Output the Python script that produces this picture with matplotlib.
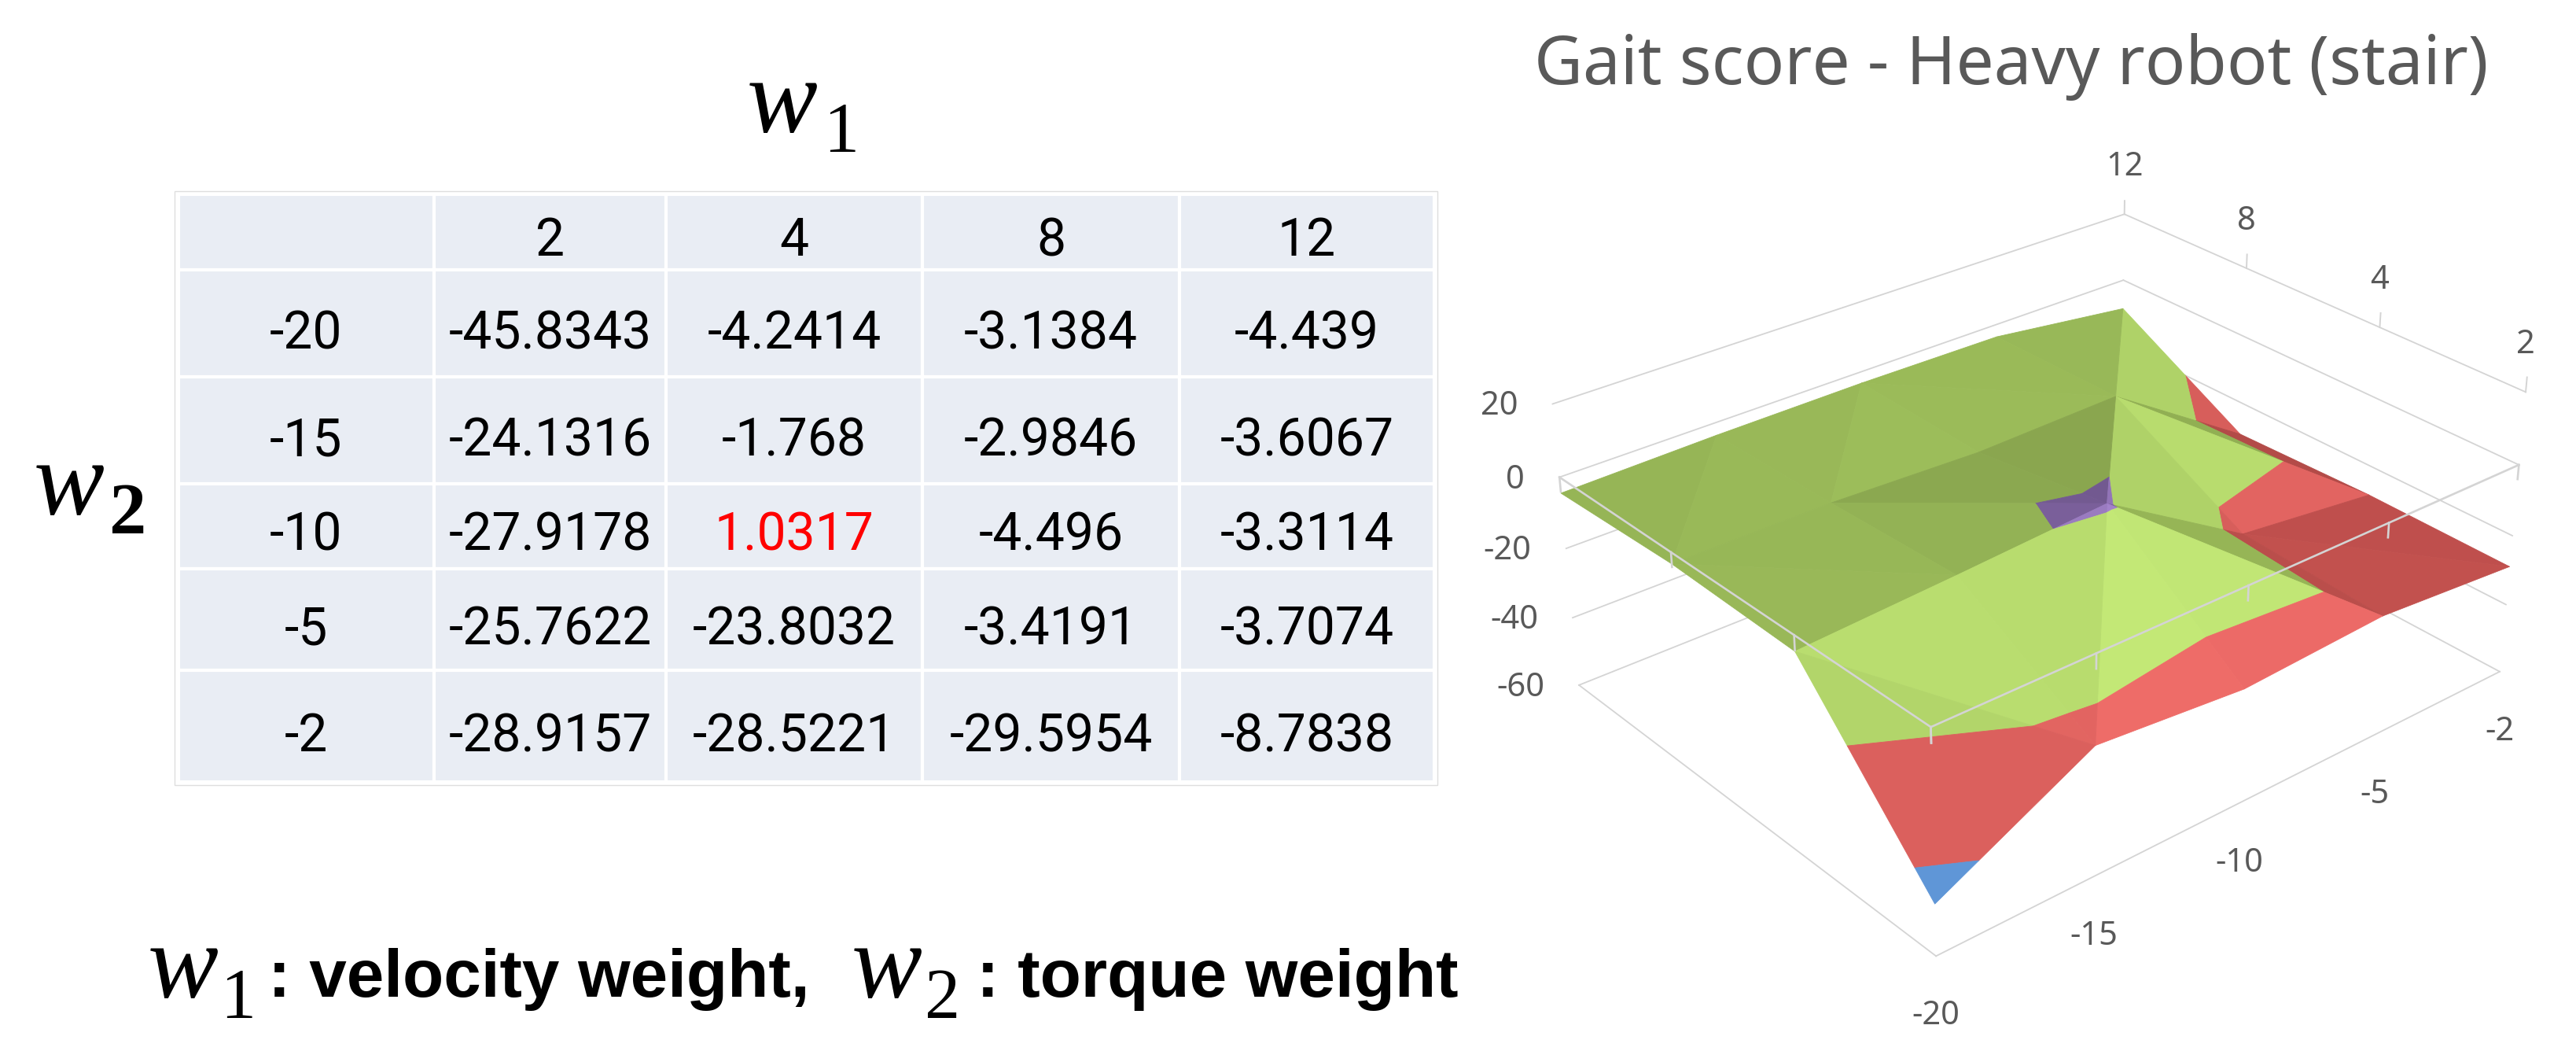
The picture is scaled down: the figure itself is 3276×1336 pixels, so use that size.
import numpy as np
import matplotlib
matplotlib.use("Agg")
import matplotlib.pyplot as plt
from matplotlib.patches import Rectangle
from mpl_toolkits.mplot3d import proj3d
from mpl_toolkits.mplot3d.art3d import Poly3DCollection

W1 = [2, 4, 8, 12]
W2 = [-20, -15, -10, -5, -2]
SCORE_M20 = [-45.8343, -4.2414, -3.1384, -4.439]
SCORE_M15 = [-24.1316, -1.768, -2.9846, -3.6067]
SCORE_M10 = [-27.9178, 1.0317, -4.496, -3.3114]
SCORE_M5 = [-25.7622, -23.8032, -3.4191, -3.7074]
SCORE_M2 = [-28.9157, -28.5221, -29.5954, -8.7838]
Z_TICKS = [20, 0, -20, -40, -60]

BANDS = [(-60, -40, "#4F81BD"), (-40, -20, "#C0504D"), (-20, 0, "#9BBB59"), (0, 20, "#8064A2")]

W, H = 3276, 1336
score = np.array([SCORE_M20, SCORE_M15, SCORE_M10, SCORE_M5, SCORE_M2])

fig = plt.figure(figsize=(W / 100, H / 100), dpi=100)

# flat layer in pixels for the table and the labels
pg = fig.add_axes([0, 0, 1, 1])
pg.set_xlim(0, W)
pg.set_ylim(H, 0)
pg.axis("off")

# table
col_edges = [227, 552, 847, 1173, 1500, 1824]
row_edges = [247, 343, 479, 615, 723, 852, 994]
baselines = [325, 443, 579, 700, 820, 955]
pg.add_patch(Rectangle((222, 243), 1606, 755, fc="none", ec="#dedede", lw=1))
for r in range(6):
    for c in range(5):
        x0, x1 = col_edges[c], col_edges[c + 1]
        y0, y1 = row_edges[r], row_edges[r + 1]
        pg.add_patch(Rectangle((x0, y0), x1 - x0, y1 - y0, fc="#E9EDF4", ec="white", lw=3))
        if r == 0 and c == 0:
            continue
        if r == 0:
            txt = str(W1[c - 1])
        elif c == 0:
            txt = str(W2[r - 1])
        else:
            txt = str(score[r - 1, c - 1])
        col = "#ff0000" if (r > 0 and c > 0 and score[r - 1, c - 1] > 0) else "black"
        pg.text((x0 + x1) / 2, baselines[r], txt, ha="center", va="baseline", color=col,
                family="Roboto", fontsize=47.5)

SERIF = "Liberation Serif"
SANS = "Liberation Sans"
pg.text(950, 168, "w", family=SERIF, style="italic", fontsize=97, va="baseline")
pg.text(1047, 193, "1", family=SERIF, fontsize=65, va="baseline")
pg.text(43, 654, "w", family=SERIF, style="italic", fontsize=97, va="baseline")
pg.text(139, 678, "2", family=SERIF, weight="bold", fontsize=68, va="baseline")
pg.text(188, 1268, "w", family=SERIF, style="italic", fontsize=97, va="baseline")
pg.text(280, 1294, "1", family=SERIF, fontsize=65, va="baseline")
pg.text(341, 1267, ": velocity weight,", family=SANS, weight="bold", fontsize=61.6, va="baseline")
pg.text(1083, 1268, "w", family=SERIF, style="italic", fontsize=97, va="baseline")
pg.text(1176, 1294, "2", family=SERIF, fontsize=65, va="baseline")
pg.text(1242, 1267, ": torque weight", family=SANS, weight="bold", fontsize=61.6, va="baseline")

pg.text(2558, 107, "Gait score - Heavy robot (stair)", family="Noto Sans", fontsize=61.4,
        color="#595959", ha="center", va="baseline")

# surface, camera fitted against the box corners
ax = fig.add_axes([0, 0, 1, 1], projection="3d", computed_zorder=False)
ni, nj = len(W1) - 1, len(W2) - 1
ax.set_xlim(ni, 0)
ax.set_ylim(0, nj)
ax.set_zlim(Z_TICKS[-1], Z_TICKS[0])
box = np.array([1, 1.2551, 0.5434])
ax.set_box_aspect(box)
ax.set_proj_type("persp", focal_length=0.5376)
ax.view_init(elev=29.1123, azim=-40.1318)
ax.set_axis_off()
ax.patch.set_alpha(0)
s, tx, ty = 6668.869, 2595.822, 689.007
vl = ax.viewLim
ax.set_position([(tx + s * vl.x0) / W, (H - ty + s * vl.y0) / H, s * vl.width / W, s * vl.height / H])


def clip_band(tri, lo, hi):
    poly = list(tri)
    for sign, lim in ((1, lo), (-1, hi)):
        out = []
        for k in range(len(poly)):
            a, b = poly[k], poly[(k + 1) % len(poly)]
            da, db = sign * (a[2] - lim), sign * (b[2] - lim)
            if da >= 0:
                out.append(a)
            if da * db < 0:
                out.append(a + (b - a) * da / (da - db))
        poly = out
        if not poly:
            break
    return poly


def shade(tri):
    # brightness: lit from the front left
    scale = box / np.array([ni, nj, Z_TICKS[0] - Z_TICKS[-1]])
    p = tri * scale
    n = np.cross(p[1] - p[0], p[2] - p[0])
    n = n / np.linalg.norm(n)
    if n[2] < 0:
        n = -n
    fx = -0.47 * n[0] if n[0] < 0 else -0.9 * n[0]
    fy = 0.45 * n[1] if n[1] < 0 else -0.1 * n[1]
    return 1 + fx + fy


def lit(base, f):
    rgb = np.array(matplotlib.colors.to_rgb(base))
    if f > 1:
        # highlights wash out a bit towards white
        return np.clip(rgb * (1 + 0.7 * (f - 1)) + 0.25 * (f - 1), 0, 1)
    return rgb * f


polys, colors = [], []
for i in range(ni):
    for j in range(nj):
        c = [np.array([i + a, j + b, score[j + b, i + a]], float) for a, b in ((0, 0), (1, 0), (1, 1), (0, 1))]
        # cut along the higher diagonal
        if c[0][2] + c[2][2] >= c[1][2] + c[3][2]:
            tris = [(c[0], c[1], c[2]), (c[0], c[2], c[3])]
        else:
            tris = [(c[0], c[1], c[3]), (c[1], c[2], c[3])]
        for tri in tris:
            f = shade(np.array(tri))
            for lo, hi, base in BANDS:
                poly = clip_band(tri, lo, hi)
                if len(poly) >= 3:
                    polys.append(np.array(poly))
                    colors.append(lit(base, f))

GRID = "#d4d4d4"
corners = {"L": (ni, 0), "B": (ni, nj), "R": (0, nj), "F": (0, 0)}


def edge(a, b, z, **kw):
    ax.plot([corners[a][0], corners[b][0]], [corners[a][1], corners[b][1]], [z, z],
            color=GRID, clip_on=False, **kw)


for z in Z_TICKS:
    edge("L", "B", z, lw=1.3, zorder=1)
    edge("B", "R", z, lw=1.3, zorder=1)
edge("L", "F", Z_TICKS[-1], lw=1.3, zorder=1)
edge("F", "R", Z_TICKS[-1], lw=1.3, zorder=1)

surf = Poly3DCollection(polys, facecolors=colors, edgecolors=colors, linewidths=0.6, zorder=2)
surf.set_clip_on(False)
ax.add_collection3d(surf, autolim=False)

# frame at z=0 sits in front of the surface
edge("L", "F", 0, lw=1.9, zorder=3)
edge("F", "R", 0, lw=1.9, zorder=3)
for i in range(ni + 1):
    ax.plot([i, i], [0, 0], [0, -4], color=GRID, lw=1.9, clip_on=False, zorder=3)
    ax.plot([i, i], [nj, nj], [20, 24], color=GRID, lw=1.4, clip_on=False, zorder=1)
for j in range(nj + 1):
    ax.plot([0, 0], [j, j], [0, -4], color=GRID, lw=1.9, clip_on=False, zorder=3)

M = ax.get_proj()


def tick_label(txt, x, y, z, dx, dy, ha="center"):
    px, py, _ = proj3d.proj_transform(x, y, z, M)
    ax.annotate(txt, (px, py), xytext=(dx, dy), textcoords="offset pixels", ha=ha, va="center",
                annotation_clip=False, family="Noto Sans", fontsize=30, color="#595959", zorder=4)


for i, v in enumerate(W1):
    tick_label(str(v), i, nj, Z_TICKS[0], 0, 60)
for j, v in enumerate(W2):
    tick_label(str(v), 0, j, Z_TICKS[-1], 0, -76)
for v in Z_TICKS:
    tick_label(str(v), ni, 0, v, -44, -3, ha="right")

fig.savefig("out.png", dpi=100)
